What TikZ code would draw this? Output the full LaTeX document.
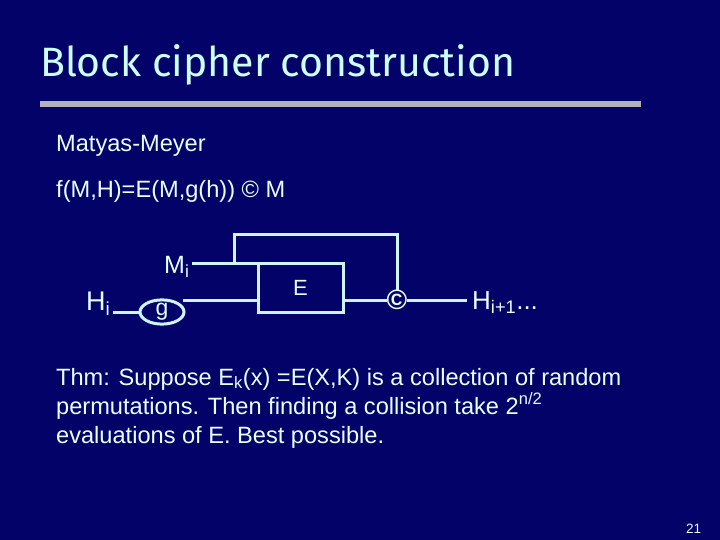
\documentclass[tikz,border=0pt]{standalone}
\usepackage{fontspec}
\setmainfont{Liberation Sans}
\newfontfamily\titlefont{Fira Sans}
\usetikzlibrary{shapes.geometric}
\definecolor{bg}{RGB}{2,2,104}
\definecolor{titlecol}{RGB}{204,255,255}
\definecolor{txt}{RGB}{232,255,255}
\definecolor{wire}{RGB}{204,245,255}
\definecolor{bar}{RGB}{178,178,184}
\tikzset{
  wirestyle/.style={draw=wire, line width=3pt},
  body/.style={text=txt, inner sep=0pt, anchor=base west, font=\fontsize{23.6}{28}\selectfont},
  lab/.style={text=txt, inner sep=0pt, anchor=base west},
}
\begin{document}
\begin{tikzpicture}[x=1pt,y=-1pt]
\fill[bg] (0,0) rectangle (720,540);
\useasboundingbox (0,0) rectangle (720,540);
% title
\node[inner sep=0pt, anchor=base west, text=titlecol, font=\titlefont\fontsize{41}{48}\selectfont] (title) at (40,77) {Block cipher construction};
\fill[bar] (40,101) rectangle (641,107);
% body text
\node[body] (mm) at (56,152) {Matyas-Meyer};
\node[body] (fdef) at (56,198) {f(M,H)=E(M,g(h)) © M};
\node[body] (t1) at (56,385) {Thm: Suppose E\textsubscript{k}(x) =E(X,K) is a collection of random};
\node[body] (t2) at (56,414) {permutations. Then finding a collision take 2\textsuperscript{n/2}};
\node[body] (t3) at (56,443) {evaluations of E. Best possible.};
% diagram
\node[lab, font=\fontsize{27}{30}\selectfont] (hi) at (86,310) {H\textsubscript{i}};
\node[lab, font=\fontsize{25}{28}\selectfont] (mi) at (164,273) {M\textsubscript{i}};
\node[draw=wire, line width=3pt, outer sep=0pt, ellipse, minimum width=44pt, minimum height=22pt, inner sep=0pt, text=txt, font=\fontsize{23}{26}\selectfont] (g) at (162,312) {g};
\node[draw=wire, line width=3pt, outer sep=0pt, rectangle, minimum width=85pt, minimum height=49pt, inner sep=0pt, text=txt, font=\fontsize{22}{25}\selectfont] (E) at (300.5,287.5) {E};
\node[text=txt, inner sep=0pt, outer sep=0pt, font=\bfseries\fontsize{28}{30}\selectfont] (xor) at (397,300) {©};
\node[lab, font=\fontsize{26}{29}\selectfont] (hout) at (472,309) {H\textsubscript{i+1}...};
\node[text=txt, inner sep=0pt, anchor=base west, font=\fontsize{13.5}{15}\selectfont] (pg) at (686,533) {21};
\coordinate (hin) at (113,312);
\coordinate (min) at (192,263);
\coordinate (gout) at (183,300);
\coordinate (fb) at (234,263);
\coordinate (hend) at (467,300);
\draw[wirestyle] (hin) -- (g.west);
\draw[wirestyle] (min) -- (E.north west);
\draw[wirestyle] (gout) -- (E.west |- gout);
\draw[wirestyle] (fb) -- ++(0,-29) -| (xor.north);
\draw[wirestyle] (E.east |- gout) -- (xor.west);
\draw[wirestyle] (xor.east) -- (hend);
\end{tikzpicture}
\end{document}
